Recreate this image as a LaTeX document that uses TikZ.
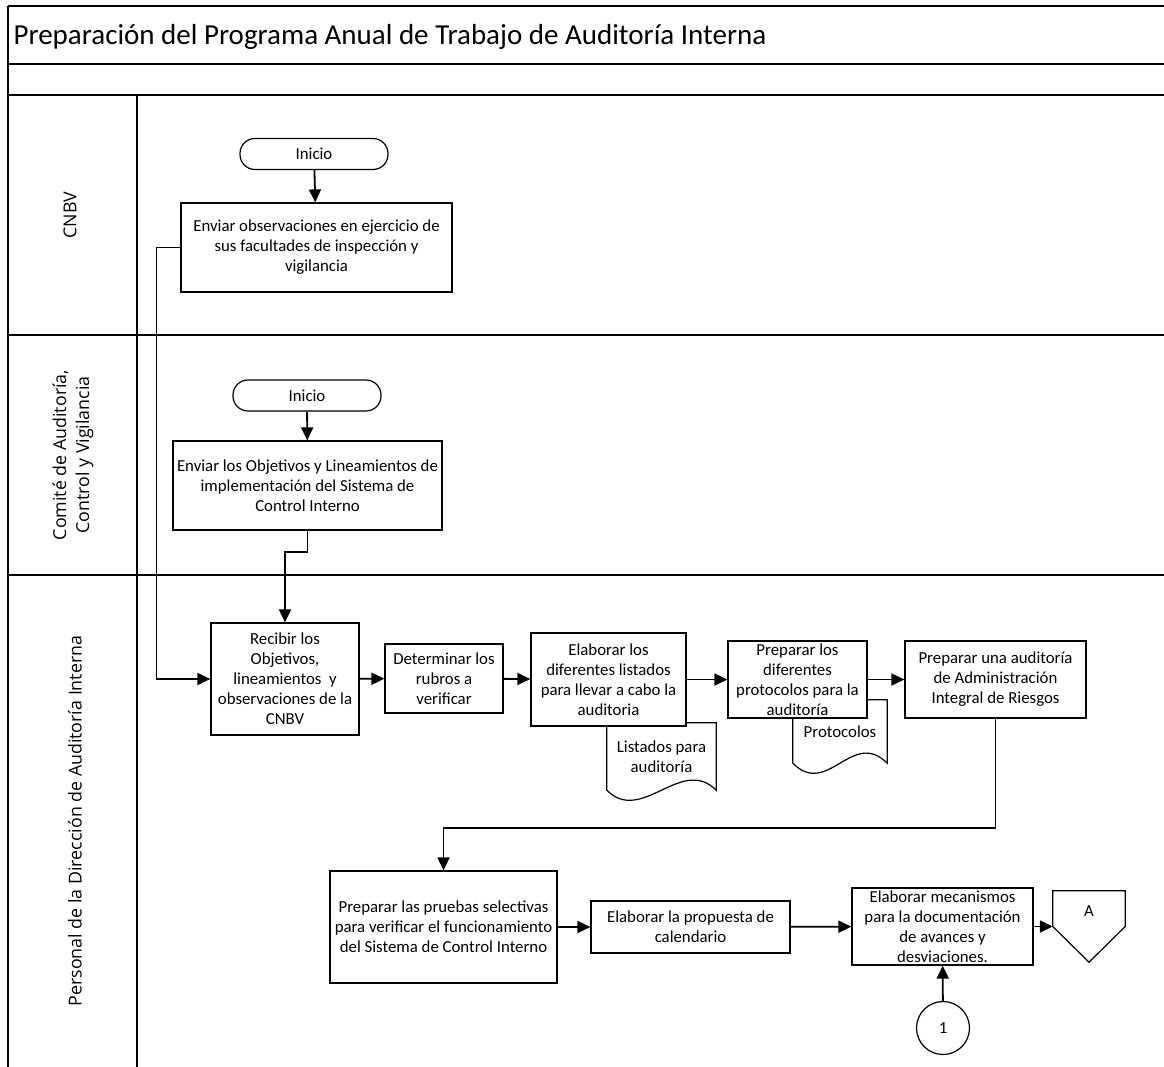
\documentclass[tikz,border=0pt]{standalone}
\usepackage{fontspec}
\setmainfont{Carlito}
\newfontfamily\lanefont{Open Sans}
\usetikzlibrary{arrows.meta, positioning, calc}

\begin{document}
\begin{tikzpicture}[
    x=1pt, y=-1pt,
    >={Triangle[length=13pt, width=12pt]},
    proc/.style={draw, line width=1.2pt, fill=white, align=center,
                 inner sep=1pt, font=\fontsize{16.8}{20}\selectfont},
    term/.style={proc, rounded corners=15pt, minimum width=148pt,
                 minimum height=31pt},
    docu/.style={align=center, inner sep=0pt, font=\fontsize{16.8}{20}\selectfont},
    conn/.style={->, line width=1.8pt},
    lane/.style={line width=1.5pt},
    lanelbl/.style={rotate=90, align=center,
                    font=\lanefont\fontsize{17.8}{23}\selectfont}
  ]
  \useasboundingbox (0,0) rectangle (1164,1067);

  % pool and lanes
  \foreach \y in {6,64,95,335,575}
    \draw[lane] (8,\y) -- (1164,\y);
  \draw[lane] (8,6) -- (8,1067);
  \draw[lane] (137,95) -- (137,1067);

  \node[anchor=west, font=\fontsize{29}{34}\selectfont] (title) at (10,37)
    {Preparación del Programa Anual de Trabajo de Auditoría Interna};
  \node[lanelbl] (l1) at (70,215) {CNBV};
  \node[lanelbl] (l2) at (73,455) {Comité de Auditoría,\\Control y Vigilancia};
  \node[lanelbl] (l3) at (75,821) {Personal de la Dirección de Auditoría Interna};

  % documents (behind the boxes)
  \node[docu, minimum width=109pt, minimum height=67pt] (ldoc) at (661.5,756.5)
    {Listados para\\auditoría};
  \node[docu, minimum width=94pt, minimum height=63pt] (pdoc) at (840,731.5)
    {Protocolos};
  \foreach \d in {ldoc, pdoc}
    \draw[line width=1.2pt] (\d.north east) -- (\d.north west) -- (\d.south west)
      .. controls +(35,35) and +(-35,-35) .. (\d.south east) -- cycle;

  % CNBV
  \node[term] (ini1) at (314,154) {Inicio};
  \node[proc, minimum width=271pt, minimum height=89pt] (env1) at (316.5,247.5)
    {Enviar observaciones en ejercicio de\\sus facultades de inspección y\\vigilancia};

  % Comite
  \node[term] (ini2) at (307,395.5) {Inicio};
  \node[proc, minimum width=269pt, minimum height=89pt] (env2) at (307.5,485.5)
    {Enviar los Objetivos y Lineamientos de\\implementación del Sistema de\\Control Interno};

  % Personal de auditoria
  \node[proc, minimum width=148pt, minimum height=112pt] (rec) at (285,679)
    {Recibir los\\Objetivos,\\lineamientos~ y\\observaciones de la\\CNBV};
  \node[proc, minimum width=118pt, minimum height=69pt] (det) at (444,678.5)
    {Determinar los\\rubros a\\verificar};
  \node[proc, minimum width=155pt, minimum height=93pt] (lis) at (608.5,679.5)
    {Elaborar los\\diferentes listados\\para llevar a cabo la\\auditoria};
  \node[proc, minimum width=139pt, minimum height=77pt] (pro) at (797.5,679.5)
    {Preparar los\\diferentes\\protocolos para la\\auditoría};
  \node[proc, minimum width=181pt, minimum height=77pt] (adm) at (995.5,679.5)
    {Preparar una auditoría\\de Administración\\Integral de Riesgos};
  \node[proc, minimum width=227pt, minimum height=112pt] (pru) at (443.5,927)
    {Preparar las pruebas selectivas\\para verificar el funcionamiento\\del Sistema de Control Interno};
  \node[proc, minimum width=199pt, minimum height=52pt] (cal) at (690.5,927)
    {Elaborar la propuesta de\\calendario};
  \node[proc, minimum width=181pt, minimum height=77pt] (mec) at (942.5,926.5)
    {Elaborar mecanismos\\para la documentación\\de avances y\\desviaciones.};
  \node[proc, circle, minimum size=53pt] (c1) at (943,1028) {1};

  % off-page connector
  \node[minimum width=72pt, minimum height=71pt, inner sep=0pt] (offA) at (1089,926.5) {};
  \draw[line width=1.2pt] (offA.north west) -- (offA.north east) -- (offA.east)
    -- (offA.south) -- (offA.west) -- cycle;
  \node[docu] (offAt) at ($(offA.north)+(0,20)$) {A};

  % flow
  \draw[conn] (ini1) -- (env1);
  \draw[conn] (ini2) -- (env2);
  \draw[conn] (env1.west) -- ++(-24,0) |- (rec.west);
  \draw[conn] (env2.south) -- ++(0,21) -| (rec.north);
  \draw[conn] (rec) -- (det);
  \draw[conn] (det) -- (lis);
  \draw[conn] (lis) -- (pro);
  \draw[conn] (pro) -- (adm);
  \draw[conn] (adm.south) -- ++(0,109) -| (pru.north);
  \draw[conn] (pru) -- (cal);
  \draw[conn] (cal) -- (mec);
  \draw[conn] (mec.east) -- (offA.west);
  \draw[conn] (c1) -- (mec);
\end{tikzpicture}
\end{document}
